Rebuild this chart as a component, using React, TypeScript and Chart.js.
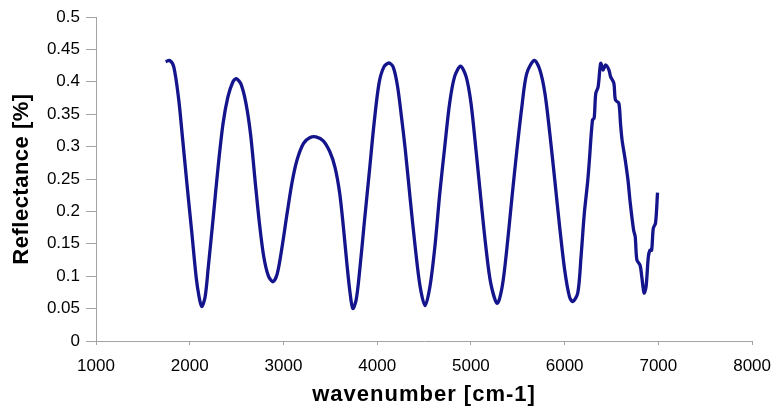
import { useEffect, useRef } from "react";
import { Chart, registerables } from "chart.js";

Chart.register(...registerables);

// Measured spectrum: wavenumber [cm-1] and reflectance
const wavenumber = [
  1743, 1785, 1830, 1883, 1918, 1970, 2023, 2069, 2100, 2128,
  2164, 2198, 2251, 2303, 2356, 2408, 2461, 2496, 2548, 2601,
  2650, 2697, 2745, 2790, 2840, 2889, 2934, 2986, 3039, 3092,
  3144, 3214, 3284, 3347, 3425, 3495, 3550, 3600, 3640, 3675,
  3710, 3740, 3775, 3810, 3862, 3915, 3967, 4020, 4072, 4125,
  4170, 4215, 4260, 4300, 4353, 4405, 4458, 4511, 4563, 4616,
  4668, 4721, 4773, 4826, 4889, 4949, 5001, 5054, 5107, 5159,
  5212, 5281, 5334, 5386, 5439, 5491, 5544, 5596, 5677, 5737,
  5790, 5842, 5895, 5947, 6000, 6052, 6087, 6140, 6175, 6210,
  6245, 6262, 6297, 6315, 6332, 6357, 6385, 6410, 6437, 6473,
  6490, 6525, 6542, 6578, 6596, 6613, 6647, 6676, 6700, 6736,
  6753, 6771, 6805, 6823, 6848, 6869, 6893, 6910, 6928, 6946,
  6970, 6991,
];

const reflectance = [
  0.431, 0.433, 0.423, 0.372, 0.321, 0.243, 0.166, 0.098, 0.068, 0.053,
  0.068, 0.114, 0.191, 0.269, 0.336, 0.377, 0.400, 0.405, 0.396, 0.366,
  0.318, 0.248, 0.180, 0.130, 0.100, 0.0915, 0.104, 0.146, 0.197, 0.245,
  0.279, 0.305, 0.314, 0.315, 0.309, 0.292, 0.268, 0.228, 0.175, 0.122,
  0.075, 0.050, 0.063, 0.104, 0.182, 0.259, 0.336, 0.398, 0.423, 0.429,
  0.423, 0.395, 0.345, 0.295, 0.218, 0.146, 0.084, 0.0545, 0.084, 0.146,
  0.228, 0.300, 0.367, 0.408, 0.424, 0.408, 0.367, 0.295, 0.218, 0.146,
  0.089, 0.058, 0.084, 0.146, 0.223, 0.295, 0.362, 0.413, 0.433, 0.418,
  0.382, 0.320, 0.248, 0.176, 0.110, 0.068, 0.061, 0.074, 0.130, 0.197,
  0.245, 0.275, 0.341, 0.344, 0.382, 0.392, 0.4285, 0.418, 0.426, 0.418,
  0.408, 0.398, 0.372, 0.367, 0.336, 0.310, 0.279, 0.248, 0.213, 0.171,
  0.161, 0.125, 0.117, 0.099, 0.074, 0.084, 0.130, 0.140, 0.140, 0.174,
  0.182, 0.229,
];

const xTickLabels = ["1000", "2000", "3000", "4000", "5000", "6000", "7000", "8000"];
const yTickLabels = [
  "0", "0.05", "0.1", "0.15", "0.2", "0.25", "0.3", "0.35", "0.4", "0.45", "0.5",
];

const FONT = "'Liberation Sans', Arial, Helvetica, sans-serif";
const AXIS_GREY = "#a3a3a3";

// Axis titles are drawn with a little extra letter spacing
const titleSpacing: Record<string, string> = { x: "1px", y: "0.5px" };
const spacedTitles = {
  id: "spacedTitles",
  afterLayout(chart: any) {
    for (const id of Object.keys(titleSpacing)) {
      const scale: any = chart.scales[id];
      if (!scale || scale.__spaced) continue;
      const original = scale.drawTitle;
      scale.drawTitle = function () {
        const ctx = this.ctx;
        const prev = ctx.letterSpacing;
        ctx.letterSpacing = titleSpacing[id];
        original.call(this);
        ctx.letterSpacing = prev;
      };
      scale.__spaced = true;
    }
  },
};

export default function App() {
  const canvasRef = useRef<HTMLCanvasElement>(null);

  useEffect(() => {
    const canvas = canvasRef.current;
    if (!canvas) return;

    const chart = new Chart(canvas, {
      type: "line",
      data: {
        datasets: [
          {
            data: wavenumber.map((x, i) => ({ x, y: reflectance[i] })),
            borderColor: "#14148c",
            borderWidth: 3.3,
            pointRadius: 0,
            fill: false,
            tension: 0.3,
          },
        ],
      },
      options: {
        animation: false,
        responsive: true,
        maintainAspectRatio: false,
        layout: { padding: { left: 0, right: 20, top: 17, bottom: 0 } },
        plugins: {
          legend: { display: false },
          tooltip: { enabled: false },
        },
        scales: {
          x: {
            type: "linear",
            min: 1000,
            max: 8000,
            afterBuildTicks: (scale: any) => {
              scale.ticks = xTickLabels.map((l) => ({ value: Number(l) }));
            },
            afterFit: (scale: any) => {
              scale.height = 73;
            },
            grid: {
              display: true,
              drawOnChartArea: false,
              drawTicks: true,
              tickLength: 4,
              color: AXIS_GREY,
            },
            border: { color: AXIS_GREY, width: 1 },
            ticks: {
              padding: 11,
              color: "#000",
              maxRotation: 0,
              font: { family: FONT, size: 17 },
              callback: (_v: any, i: number) => xTickLabels[i],
            },
            title: {
              display: true,
              text: "wavenumber [cm-1]",
              color: "#000",
              font: { family: FONT, size: 22, weight: "bold" },
              padding: { top: 0, bottom: 6 },
            },
          },
          y: {
            type: "linear",
            min: 0,
            max: 0.5,
            afterBuildTicks: (scale: any) => {
              scale.ticks = yTickLabels.map((l) => ({ value: Number(l) }));
            },
            afterFit: (scale: any) => {
              scale.width = 96;
            },
            grid: {
              display: true,
              drawOnChartArea: false,
              drawTicks: true,
              tickLength: 10,
              color: AXIS_GREY,
            },
            border: { color: AXIS_GREY, width: 1 },
            ticks: {
              padding: 6,
              color: "#000",
              font: { family: FONT, size: 17 },
              callback: (_v: any, i: number) => yTickLabels[i],
            },
            title: {
              display: true,
              text: "Reflectance [%]",
              color: "#000",
              font: { family: FONT, size: 22, weight: "bold" },
              padding: { top: 9, bottom: 0 },
            },
          },
        },
      },
      plugins: [spacedTitles],
    });

    return () => chart.destroy();
  }, []);

  return (
    <div
      style={{
        position: "fixed",
        left: 0,
        top: 0,
        width: 782,
        height: 414,
        background: "#fff",
      }}
    >
      <canvas ref={canvasRef} />
    </div>
  );
}
